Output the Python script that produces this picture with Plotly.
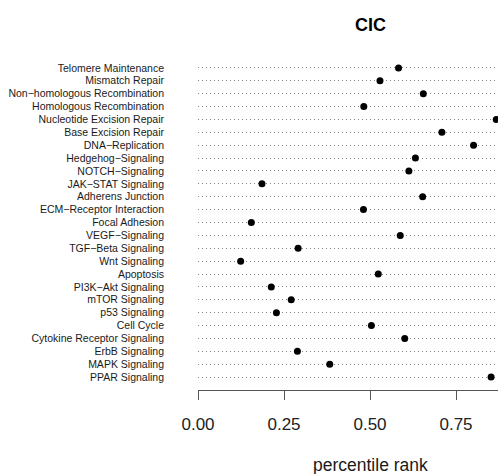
import plotly.graph_objects as go

# Pathway names, listed top to bottom
pathways = [
    "Telomere Maintenance", "Mismatch Repair", "Non−homologous Recombination",
    "Homologous Recombination", "Nucleotide Excision Repair", "Base Excision Repair",
    "DNA−Replication", "Hedgehog−Signaling", "NOTCH−Signaling", "JAK−STAT Signaling",
    "Adherens Junction", "ECM−Receptor Interaction", "Focal Adhesion", "VEGF−Signaling",
    "TGF−Beta Signaling", "Wnt Signaling", "Apoptosis", "PI3K−Akt Signaling",
    "mTOR Signaling", "p53 Signaling", "Cell Cycle", "Cytokine Receptor Signaling",
    "ErbB Signaling", "MAPK Signaling", "PPAR Signaling",
]

# Percentile rank of CIC within each pathway
percentile = [
    0.583, 0.529, 0.655, 0.482, 0.867, 0.709, 0.801, 0.632, 0.613, 0.186,
    0.653, 0.481, 0.155, 0.588, 0.291, 0.124, 0.524, 0.213, 0.271, 0.228,
    0.504, 0.601, 0.289, 0.383, 0.852,
]

x_tickvals = [0.0, 0.25, 0.5, 0.75]
x_ticktext = ["0.00", "0.25", "0.50", "0.75"]

gene = "CIC"
x_title = "percentile rank"

# row positions: first pathway at the top
rows = list(range(len(pathways), 0, -1))

W, H = 498, 474
left, top, bottom = 198, 55.4, 84
plot_h = H - top - bottom
px_per_unit = 344.0
x_max = (W - left) / px_per_unit

font_family = "Liberation Sans, Arial, Helvetica, sans-serif"

fig = go.Figure(
    go.Scatter(
        x=percentile,
        y=rows,
        mode="markers",
        marker=dict(color="black", size=7, line=dict(width=0)),
        hoverinfo="skip",
    )
)

fig.update_layout(
    width=W,
    height=H,
    autosize=False,
    margin=dict(l=left, r=0, t=top, b=bottom, pad=0),
    paper_bgcolor="white",
    plot_bgcolor="white",
    showlegend=False,
    font=dict(family=font_family, color="#1a1a1a"),
    xaxis=dict(
        range=[0, x_max],
        showgrid=False,
        zeroline=False,
        showline=True,
        linecolor="#555555",
        linewidth=1,
        ticks="outside",
        ticklen=9,
        tickwidth=1,
        tickcolor="#555555",
        tickvals=x_tickvals,
        ticktext=x_ticktext,
        tickfont=dict(size=17, color="#222222"),
        ticklabelstandoff=10,
        fixedrange=True,
    ),
    yaxis=dict(
        range=[0, len(pathways) + 1],
        tickvals=rows,
        ticktext=pathways,
        showgrid=True,
        gridcolor="#858585",
        gridwidth=1,
        griddash="1px,3px",
        zeroline=False,
        showline=False,
        ticks="",
        tickfont=dict(size=10.5, color="#1a1a1a"),
        ticklabelstandoff=33,
        fixedrange=True,
    ),
    annotations=[
        dict(
            text=f"<b>{gene}</b>",
            x=0.5, xref="x",
            y=(H - bottom - 25) / plot_h, yref="paper",
            xanchor="center", yanchor="middle",
            showarrow=False,
            font=dict(size=18, color="black"),
        ),
        dict(
            text=x_title,
            x=0.5, xref="x",
            y=(H - bottom - 465) / plot_h, yref="paper",
            xanchor="center", yanchor="middle",
            showarrow=False,
            font=dict(size=17.5, color="#1a1a1a"),
        ),
    ],
)

fig.write_html("out.html")
